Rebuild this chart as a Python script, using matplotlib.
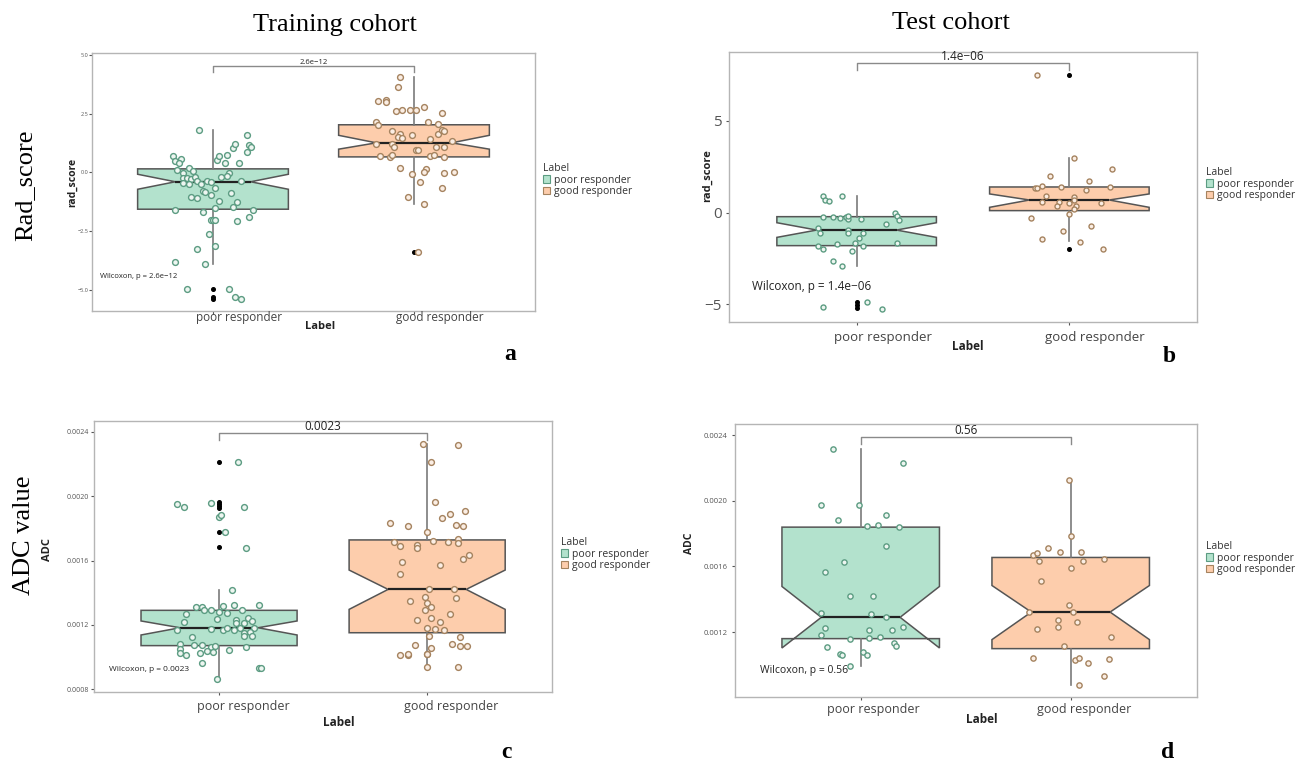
import matplotlib
matplotlib.use("Agg")
import matplotlib.pyplot as plt
import matplotlib.transforms as mtransforms
from matplotlib.patches import Patch
from matplotlib.ticker import FuncFormatter

GROUPS = ["poor responder", "good responder"]
LEGEND_TITLE = "Label"
COL_TITLES = ["Training cohort", "Test cohort"]
ROW_TITLES = ["Rad_score", "ADC value"]
PANEL_LETTERS = ["a", "b", "c", "d"]

# box stats:
# q1, median, q3, notch low, notch high, whisker low, whisker high
A_POOR_BOX = [-1.57, -0.40, 0.15, -0.72, -0.08, -3.90, 1.79]
A_GOOD_BOX = [0.66, 1.26, 2.03, 0.99, 1.58, -1.34, 4.05]
A_POOR_OUT = [-4.96, -5.30, -5.41]
A_GOOD_OUT = [-3.41]
A_P = "2.6e\u221212"

B_POOR_BOX = [-1.80, -0.95, -0.22, -1.35, -0.55, -2.89, 0.91]
B_GOOD_BOX = [0.11, 0.69, 1.40, 0.29, 1.02, -1.56, 2.98]
B_POOR_OUT = [-4.89, -5.04, -5.18]
B_GOOD_OUT = [7.49, -1.98]
B_P = "1.4e\u221206"

C_POOR_BOX = [0.001072, 0.001183, 0.001291, 0.001138, 0.001225, 0.000863, 0.001417]
C_GOOD_BOX = [0.001152, 0.001421, 0.001728, 0.001297, 0.001541, 0.000937, 0.002321]
C_POOR_OUT = [0.00221, 0.001961, 0.00195, 0.001939, 0.001926, 0.001779, 0.001682]
C_GOOD_OUT = []
C_P = "0.0023"

D_POOR_BOX = [0.00116, 0.00129, 0.00184, 0.001103, 0.001478, 0.000991, 0.002315]
D_GOOD_BOX = [0.001099, 0.001322, 0.001655, 0.001154, 0.001484, 0.000880, 0.002128]
D_POOR_OUT = []
D_GOOD_OUT = []
D_P = "0.56"

A_POOR_Y = [1.79, 0.71, 0.48, 0.59, 0.38, 0.10, 0.20, 0.06, -0.04, -0.23,
            -0.25, -0.30, -0.18, -0.37, -0.49, -0.44, -0.49, -0.79, -0.82, -0.97,
            -1.03, -1.09, -1.61, -1.69, -2.02, -2.02, -2.02, -2.61, -3.16, -3.28,
            -3.84, -3.90, -4.98, -4.96, -5.30, -5.39, -1.52, -1.24, -0.68, 0.52,
            0.69, 0.38, 0.73, 1.02, 1.23, 0.38, 1.58, 1.16, 1.09, 0.88,
            -0.01, -0.16, -0.21, -0.86, -1.48, -1.28, -0.37, -1.61, -1.91, -2.09,
            -0.38, -0.40]
A_POOR_JIT = [-0.07, -0.20, -0.19, -0.16, -0.17, -0.18, -0.12, -0.10, -0.15, -0.15,
              -0.13, -0.11, -0.09, -0.08, -0.06, -0.15, -0.12, -0.05, -0.04, -0.01,
              -0.11, -0.08, -0.19, -0.05, -0.01, 0.00, 0.01, -0.02, 0.01, -0.08,
              -0.19, -0.04, -0.13, 0.08, 0.11, 0.14, 0.01, 0.03, 0.01, 0.02,
              0.03, 0.06, 0.07, 0.10, 0.11, 0.13, 0.17, 0.18, 0.19, 0.17,
              0.08, 0.07, 0.04, 0.09, 0.10, 0.12, 0.14, 0.20, 0.18, 0.12,
              -0.03, -0.01]
A_GOOD_Y = [4.08, 3.63, 3.06, 3.09, 3.02, 2.60, 2.68, 2.64, 2.64, 2.78,
            2.53, 2.15, 2.01, 2.16, 2.05, 1.76, 1.65, 1.51, 1.48, 1.58,
            1.65, 1.79, 1.76, 1.41, 1.34, 1.23, 1.23, 1.09, 0.97, 0.97,
            1.09, 1.09, 0.69, 0.66, 0.73, 0.69, 0.73, 0.66, 0.20, 0.13,
            0.03, -0.07, -0.01, 0.03, -0.40, -0.68, -1.06, -1.34, -3.40]
A_GOOD_JIT = [-0.07, -0.08, -0.18, -0.14, -0.14, -0.09, -0.06, -0.02, 0.01, 0.05,
              0.14, -0.19, -0.18, 0.07, 0.12, -0.11, -0.07, -0.08, -0.06, -0.01,
              0.12, 0.14, 0.15, 0.08, 0.19, -0.19, -0.11, -0.10, 0.01, 0.02,
              0.11, 0.15, -0.17, -0.12, -0.11, 0.08, 0.10, 0.15, -0.07, 0.06,
              0.05, -0.01, 0.15, 0.20, 0.03, 0.14, -0.03, 0.05, 0.02]

B_POOR_Y = [0.93, 0.69, 0.65, 0.91, -0.22, -0.22, -0.27, -0.22, -0.36, -0.16,
            -0.36, -0.04, -0.18, -0.40, -0.62, -0.85, -1.09, -0.95, -1.09, -1.13,
            -1.40, -1.64, -1.71, -1.80, -1.80, -1.64, -2.00, -2.07, -2.62, -2.89,
            -5.13, -4.89, -5.27]
B_POOR_JIT = [-0.16, -0.15, -0.13, -0.07, -0.16, -0.11, -0.08, -0.05, -0.04, -0.04,
              0.02, 0.18, 0.19, 0.20, 0.14, -0.18, -0.17, -0.04, -0.04, 0.03,
              0.01, -0.01, -0.09, -0.18, 0.03, 0.19, -0.16, -0.02, -0.11, -0.07,
              -0.16, 0.05, 0.12]
B_GOOD_Y = [7.49, 2.98, 2.36, 2.02, 1.73, 1.36, 1.36, 1.47, 1.42, 1.24,
            1.38, 0.93, 0.87, 0.60, 0.60, 0.69, 0.51, 0.36, 0.38, 0.20,
            0.55, -0.09, -0.27, -0.73, -0.98, -1.44, -1.58, -2.00]
B_GOOD_JIT = [-0.15, 0.02, 0.20, -0.09, 0.09, -0.16, -0.15, -0.13, -0.04, 0.08,
              0.19, -0.11, 0.02, -0.13, -0.05, 0.02, 0.00, -0.06, 0.03, 0.02,
              0.15, 0.00, -0.18, 0.10, -0.03, -0.13, 0.05, 0.16]

C_POOR_Y = [0.002214, 0.001951, 0.00193, 0.001959, 0.00193, 0.001872, 0.00188, 0.001779,
            0.00168, 0.001419, 0.001312, 0.001312, 0.001293, 0.001291, 0.00132, 0.001322,
            0.001322, 0.001281, 0.001272, 0.001291, 0.001266, 0.001217, 0.001235, 0.001231,
            0.001241, 0.001214, 0.001227, 0.00121, 0.001169, 0.001175, 0.001169, 0.00118,
            0.001169, 0.00118, 0.00118, 0.001152, 0.001159, 0.001132, 0.001132, 0.001123,
            0.00108, 0.001074, 0.001074, 0.001065, 0.001072, 0.001049, 0.001028, 0.001012,
            0.001024, 0.001041, 0.001034, 0.001045, 0.001065, 0.000962, 0.000935, 0.000935,
            0.000865]
C_POOR_JIT = [0.09, -0.20, -0.17, -0.04, 0.12, 0.00, 0.01, 0.03,
              0.13, 0.06, -0.11, -0.08, -0.07, -0.04, 0.02, 0.07,
              0.19, 0.00, 0.04, 0.11, -0.16, -0.17, -0.01, 0.08,
              0.14, 0.12, 0.16, 0.08, -0.20, -0.04, 0.02, 0.04,
              0.07, 0.10, 0.17, 0.12, 0.15, 0.12, 0.16, -0.13,
              -0.19, -0.12, -0.08, -0.04, -0.02, -0.19, -0.19, -0.16,
              -0.09, -0.06, -0.03, 0.05, 0.13, -0.08, 0.19, 0.20,
              -0.01]
C_GOOD_Y = [0.002321, 0.002319, 0.002212, 0.001966, 0.001908, 0.001891, 0.001864, 0.001831,
            0.001814, 0.001821, 0.001814, 0.001779, 0.001723, 0.001715, 0.001732, 0.001711,
            0.001713, 0.001692, 0.001697, 0.00168, 0.001632, 0.00161, 0.001591, 0.001572,
            0.001514, 0.001423, 0.001423, 0.001351, 0.001372, 0.001339, 0.001314, 0.001366,
            0.001291, 0.001266, 0.001241, 0.001229, 0.001217, 0.001183, 0.001175, 0.001171,
            0.001134, 0.001125, 0.001076, 0.001059, 0.001082, 0.001069, 0.001072, 0.001014,
            0.001014, 0.001022, 0.00102, 0.00102, 0.000937, 0.000937]
C_GOOD_JIT = [-0.02, 0.15, 0.02, 0.04, 0.18, 0.11, 0.07, -0.18,
              -0.09, 0.14, 0.17, 0.00, 0.03, 0.10, 0.15, 0.15,
              -0.16, -0.13, -0.05, -0.05, 0.20, 0.17, -0.12, 0.06,
              -0.13, 0.01, 0.13, -0.08, -0.01, 0.00, 0.02, 0.14,
              -0.01, 0.11, 0.02, -0.05, 0.06, 0.00, 0.04, 0.08,
              0.01, 0.16, -0.06, 0.02, 0.12, 0.16, 0.19, -0.13,
              -0.09, -0.09, 0.00, 0.00, 0.00, 0.15]

D_POOR_Y = [0.002315, 0.00223, 0.001972, 0.001976, 0.001884, 0.001911, 0.001848, 0.001854,
            0.00184, 0.001722, 0.001627, 0.001568, 0.001417, 0.001417, 0.001318, 0.00131,
            0.00129, 0.001223, 0.001231, 0.001212, 0.00121, 0.00118, 0.001172, 0.001158,
            0.001162, 0.001131, 0.001113, 0.001111, 0.001064, 0.001058, 0.001078, 0.00106,
            0.000991]
D_POOR_JIT = [-0.13, 0.20, -0.19, -0.01, -0.11, 0.12, 0.03, 0.08,
              0.18, 0.12, -0.08, -0.17, -0.05, 0.06, -0.19, 0.05,
              0.12, -0.17, 0.20, 0.04, 0.15, -0.19, 0.09, -0.05,
              0.04, 0.16, 0.17, -0.16, -0.10, -0.09, 0.01, 0.03,
              -0.05]
D_GOOD_Y = [0.002128, 0.001783, 0.00171, 0.001667, 0.001685, 0.001687, 0.001689, 0.001647,
            0.001633, 0.001633, 0.00159, 0.001513, 0.001363, 0.001324, 0.001322, 0.001271,
            0.001263, 0.001233, 0.001221, 0.001172, 0.001117, 0.001042, 0.001032, 0.001042,
            0.001034, 0.001011, 0.00093, 0.00088]
D_GOOD_JIT = [-0.01, 0.00, -0.11, -0.18, -0.16, -0.05, 0.05, 0.16,
              -0.15, 0.06, 0.00, -0.14, -0.01, -0.20, 0.01, -0.06,
              0.03, -0.06, -0.16, 0.19, -0.03, -0.18, 0.02, 0.04,
              0.18, 0.08, 0.16, 0.04]

FILL = ["#b3e2cd", "#fdcdac"]
POINT_EDGE = ["#5c9c82", "#a5835f"]
POINT_FACE = ["#eef6f1", "#fbeee4"]
SANS = ["Open Sans", "DejaVu Sans"]
SERIF = ["Liberation Serif", "DejaVu Serif"]
W, H = 1315, 767


def px_rect(left, top, right, bottom):
    return [left / W, 1 - bottom / H, (right - left) / W, (bottom - top) / H]


def draw_panel(fig, p):
    ax = fig.add_axes(px_rect(*p["box_px"]))
    stats = []
    for box, out in zip(p["boxes"], p["outs"]):
        q1, med, q3, lo, hi, wlo, whi = box
        stats.append(dict(q1=q1, med=med, q3=q3, cilo=lo, cihi=hi,
                          whislo=wlo, whishi=whi, fliers=out))
    bp = ax.bxp(stats, positions=[1, 2], widths=0.75, shownotches=True,
                patch_artist=True, showcaps=False, manage_ticks=False,
                boxprops=dict(edgecolor="#555555", linewidth=1.1),
                whiskerprops=dict(color="#7a7a7a", linewidth=1.2),
                medianprops=dict(color="#222222", linewidth=1.6),
                flierprops=dict(marker="o", markersize=2.6, markerfacecolor="black",
                                markeredgecolor="black"))
    for patch, col in zip(bp["boxes"], FILL):
        patch.set_facecolor(col)

    for i, (ys, jit) in enumerate(zip(p["ys"], p["jits"])):
        xs = [i + 1 + j for j in jit]
        ax.plot(xs, ys, "o", ms=p["ms"], mfc=POINT_FACE[i], mec=POINT_EDGE[i],
                mew=1.0, zorder=4)

    ylo, yhi = p["ylim"]
    ax.set_xlim(0.4, 2.6)
    ax.set_ylim(ylo, yhi)
    ax.set_yticks(p["yticks"])
    fmt = p["fmt"]
    ax.yaxis.set_major_formatter(FuncFormatter(
        lambda v, _: fmt.format(v).replace("-", "\u2212")))
    ax.set_xticks([1, 2])
    ax.set_xticklabels([])
    ax.tick_params(axis="y", labelsize=p["ytick_fs"], colors="#555555",
                   length=2, width=0.8, pad=p["ypad"])
    ax.tick_params(axis="x", colors="#555555", length=2, width=0.8)
    for lab in ax.get_yticklabels():
        lab.set_family(SANS)
    for s in ax.spines.values():
        s.set_color("#b5b5b5")
        s.set_linewidth(1.0)

    dx, dy = p["xtick_shift"]
    tr = ax.get_xaxis_transform() + mtransforms.ScaledTranslation(
        dx / 100, -dy / 100, fig.dpi_scale_trans)
    for pos, name in zip([1, 2], GROUPS):
        ax.text(pos, 0, name, transform=tr, ha="center", va="center",
                fontsize=p["xtick_fs"], color="#444444", family=SANS)

    ax.set_xlabel(LEGEND_TITLE, fontsize=p["xlab_fs"], fontweight="bold",
                  color="#222222", family=SANS, va="center")
    ax.xaxis.set_label_coords(*p["xlab_xy"])
    ax.set_ylabel(p["ylabel"], fontsize=p["ylab_fs"], fontweight="bold",
                  color="#222222", family=SANS, va="center")
    ax.yaxis.set_label_coords(*p["ylab_xy"])

    b_lo, b_hi = p["bracket"]
    ax.plot([1, 1, 2, 2], [b_lo, b_hi, b_hi, b_lo], color="#8a8a8a", lw=1.0)
    ax.text(1.5, b_hi, p["p"], ha="center", va="bottom", fontsize=p["p_fs"],
            color="#222222", family=SANS)
    wx, wy = p["wilcox_xy"]
    ax.text(wx, wy, "Wilcoxon, p = " + p["p"], ha="left", va="center",
            fontsize=p["wil_fs"], color="#222222", family=SANS)

    handles = [Patch(facecolor=FILL[i], edgecolor=POINT_EDGE[i], linewidth=0.8)
               for i in range(2)]
    lx, ly = p["legend_px"]
    leg = fig.legend(handles, GROUPS, title=LEGEND_TITLE, loc="upper left",
                     bbox_to_anchor=(lx / W, 1 - ly / H), frameon=False,
                     fontsize=7.5, title_fontsize=7.5, alignment="left",
                     handlelength=0.7, handleheight=0.7, handletextpad=0.35,
                     labelspacing=0.05, borderpad=0, borderaxespad=0,
                     prop=dict(family=SANS, size=7.5))
    leg.get_title().set_family(SANS)
    leg.get_title().set_color("#333333")
    for t in leg.get_texts():
        t.set_color("#333333")
    return ax


def main():
    fig = plt.figure(figsize=(W / 100, H / 100), dpi=100)

    panels = [
        dict(box_px=(92.4, 53, 534.6, 311), boxes=[A_POOR_BOX, A_GOOD_BOX],
             outs=[A_POOR_OUT, A_GOOD_OUT], ys=[A_POOR_Y, A_GOOD_Y],
             jits=[A_POOR_JIT, A_GOOD_JIT], p=A_P, ylim=(-5.91, 5.09),
             yticks=[-5, -2.5, 0, 2.5, 5], fmt="{:.1f}", ytick_fs=4, ypad=1,
             ylabel="rad_score", ylab_fs=7.5, ylab_xy=(-0.044, 0.50),
             xtick_fs=8.5, xtick_shift=(26, 7), xlab_fs=8, xlab_xy=(0.515, -0.062),
             bracket=(4.26, 4.55), p_fs=5.5, wilcox_xy=(0.44, -4.42), wil_fs=5.5,
             legend_px=(543, 163), ms=4.2),
        dict(box_px=(729, 51.7, 1197, 321.7), boxes=[B_POOR_BOX, B_GOOD_BOX],
             outs=[B_POOR_OUT, B_GOOD_OUT], ys=[B_POOR_Y, B_GOOD_Y],
             jits=[B_POOR_JIT, B_GOOD_JIT], p=B_P, ylim=(-5.95, 8.78),
             yticks=[-5, 0, 5], fmt="{:g}", ytick_fs=11, ypad=3,
             ylabel="rad_score", ylab_fs=8, ylab_xy=(-0.047, 0.543),
             xtick_fs=9.5, xtick_shift=(26, 16), xlab_fs=8.5, xlab_xy=(0.511, -0.09),
             bracket=(7.78, 8.14), p_fs=8.5, wilcox_xy=(0.51, -4.04), wil_fs=8.5,
             legend_px=(1206, 167), ms=3.6),
        dict(box_px=(94.2, 420.7, 552, 691.7), boxes=[C_POOR_BOX, C_GOOD_BOX],
             outs=[C_POOR_OUT, C_GOOD_OUT], ys=[C_POOR_Y, C_GOOD_Y],
             jits=[C_POOR_JIT, C_GOOD_JIT], p=C_P, ylim=(0.000786, 0.002468),
             yticks=[0.0008, 0.0012, 0.0016, 0.0020, 0.0024], fmt="{:.4f}",
             ytick_fs=5, ypad=1.5, ylabel="ADC", ylab_fs=8, ylab_xy=(-0.101, 0.523),
             xtick_fs=9, xtick_shift=(24, 15), xlab_fs=8.5, xlab_xy=(0.535, -0.115),
             bracket=(0.002348, 0.002394), p_fs=8.5, wilcox_xy=(0.47, 0.000921),
             wil_fs=6, legend_px=(561, 537), ms=4.2),
        dict(box_px=(734.7, 424, 1196.7, 697), boxes=[D_POOR_BOX, D_GOOD_BOX],
             outs=[D_POOR_OUT, D_GOOD_OUT], ys=[D_POOR_Y, D_GOOD_Y],
             jits=[D_POOR_JIT, D_GOOD_JIT], p=D_P, ylim=(0.000804, 0.002469),
             yticks=[0.0012, 0.0016, 0.0020, 0.0024], fmt="{:.4f}",
             ytick_fs=5.5, ypad=3, ylabel="ADC", ylab_fs=7.5, ylab_xy=(-0.097, 0.564),
             xtick_fs=9, xtick_shift=(13, 12), xlab_fs=8.5, xlab_xy=(0.535, -0.084),
             bracket=(0.002347, 0.002388), p_fs=8.5, wilcox_xy=(0.52, 0.000965),
             wil_fs=7.5, legend_px=(1206, 541), ms=3.8),
    ]
    for p in panels:
        draw_panel(fig, p)

    fig.text(335 / W, 1 - 25 / H, COL_TITLES[0], ha="center", va="center",
             fontsize=19, family=SERIF)
    fig.text(951 / W, 1 - 23 / H, COL_TITLES[1], ha="center", va="center",
             fontsize=19, family=SERIF)
    fig.text(25 / W, 1 - 185 / H, ROW_TITLES[0], ha="center", va="center",
             rotation=90, fontsize=19, family=SERIF)
    fig.text(24 / W, 1 - 535 / H, ROW_TITLES[1], ha="center", va="center",
             rotation=90, fontsize=19, family=SERIF)
    letter_px = [(510, 355), (1169, 357), (506, 752), (1168, 752)]
    for (x, y), letter in zip(letter_px, PANEL_LETTERS):
        fig.text(x / W, 1 - y / H, letter, ha="center", va="center",
                 fontsize=17, fontweight="bold", family=SERIF)

    fig.savefig("out.png", dpi=100)
    plt.close(fig)


if __name__ == "__main__":
    main()
